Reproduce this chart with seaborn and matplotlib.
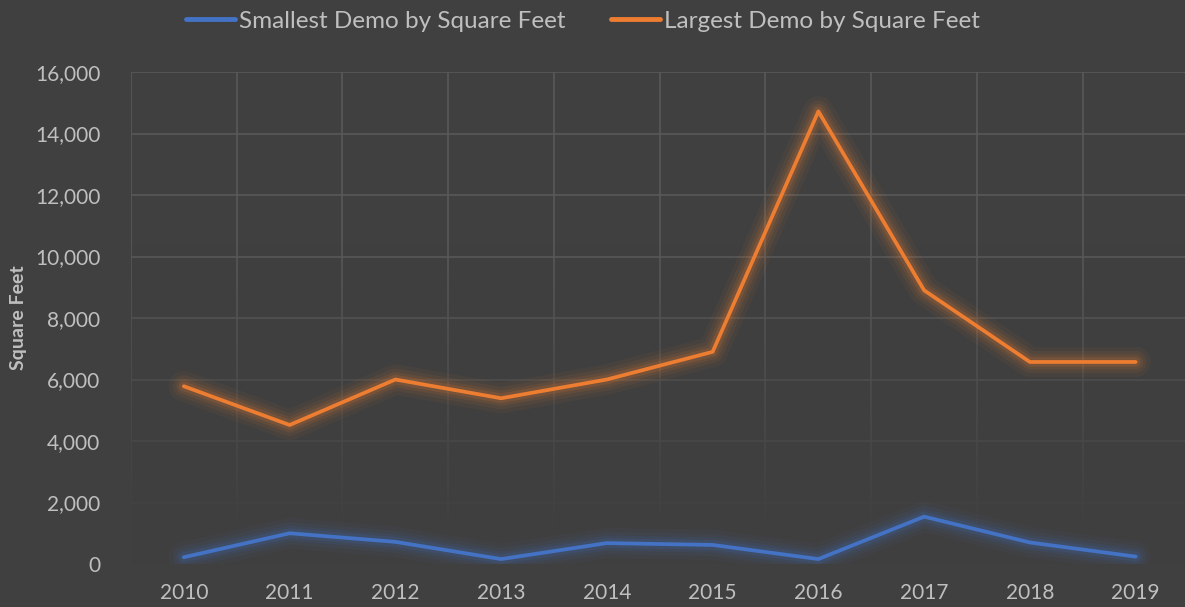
import numpy as np
import pandas as pd
import matplotlib.pyplot as plt
import matplotlib.patheffects as pe
from matplotlib.colors import LinearSegmentedColormap
from matplotlib.lines import Line2D
import seaborn as sns

years = [2010, 2011, 2012, 2013, 2014, 2015, 2016, 2017, 2018, 2019]
smallest = [220, 1000, 720, 160, 680, 620, 160, 1540, 700, 240]
largest = [5780, 4520, 6000, 5390, 6000, 6900, 14720, 8900, 6570, 6570]
series_names = ["Smallest Demo by Square Feet", "Largest Demo by Square Feet"]
colors = ["#4472C4", "#ED7D31"]

bg = "#404040"
txt = "#BFBFBF"
grid = "#595959"

df = pd.DataFrame({
    "Year": years * 2,
    "SqFt": smallest + largest,
    "Series": [series_names[0]] * len(years) + [series_names[1]] * len(years),
})

sns.set_style("dark")
plt.rcParams["font.family"] = ["Lato", "DejaVu Sans"]

fig = plt.figure(figsize=(11.85, 6.07), dpi=100, facecolor=bg)
ax = fig.add_axes([131 / 1185, 43 / 607, 1057.5 / 1185, 492 / 607])
ax.set_facecolor(bg)

sns.lineplot(data=df, x="Year", y="SqFt", hue="Series", palette=colors,
             linewidth=2.7, ax=ax, legend=False, zorder=5)

# soft glow around each line
for ln, c in zip(ax.lines, colors):
    ln.set_solid_capstyle("round")
    ln.set_solid_joinstyle("round")
    ln.set_path_effects([
        pe.Stroke(linewidth=22, foreground=c, alpha=0.05),
        pe.Stroke(linewidth=16, foreground=c, alpha=0.07),
        pe.Stroke(linewidth=11, foreground=c, alpha=0.1),
        pe.Stroke(linewidth=7, foreground=c, alpha=0.15),
        pe.Normal(),
    ])

ax.set_xlim(2009.5, 2019.5)
ax.set_ylim(0, 16000)
ax.set_yticks(np.arange(0, 16001, 2000))
ax.set_yticklabels([f"{int(v):,}" for v in np.arange(0, 16001, 2000)])
ax.set_xticks(years)
ax.set_xticks(np.arange(2009.5, 2020, 1), minor=True)
ax.grid(False)
ax.grid(True, which="minor", axis="x", color=grid, linewidth=1.2)
ax.grid(True, which="major", axis="y", color=grid, linewidth=1.2)
ax.set_axisbelow(True)

# fade the grid toward the bottom
cmap = LinearSegmentedColormap.from_list("fade", [(0.25, 0.25, 0.25, 1.0), (0.25, 0.25, 0.25, 0.0)])
grad = np.linspace(0, 1, 256).reshape(-1, 1)
grad = np.clip((grad - 0.05) / 0.6, 0, 1)
ax.imshow(grad, aspect="auto", cmap=cmap, extent=(2009.5, 2019.5, 0, 16000),
          origin="lower", zorder=1, interpolation="bilinear")
ax.set_xlim(2009.5, 2019.5)
ax.set_ylim(0, 16000)

ax.tick_params(which="both", length=0, colors=txt, labelsize=15)
ax.tick_params(axis="y", pad=22)
ax.tick_params(axis="x", pad=14)
for s in ax.spines.values():
    s.set_visible(False)

ax.set_xlabel("")
ax.set_ylabel("Square Feet", color=txt, fontsize=14, fontweight="bold")
ax.yaxis.set_label_coords(-104 / 1057.5, 0.5)

handles = [Line2D([0], [0], color=c, linewidth=3.5, solid_capstyle="round") for c in colors]
leg = fig.legend(handles, series_names, loc="upper center", bbox_to_anchor=(0.492, 1.018),
                 ncol=2, frameon=False, fontsize=17.5, labelcolor=txt,
                 handlelength=2.0, handletextpad=0.15, columnspacing=1.9)

fig.savefig("out.png", dpi=100, facecolor=bg)
